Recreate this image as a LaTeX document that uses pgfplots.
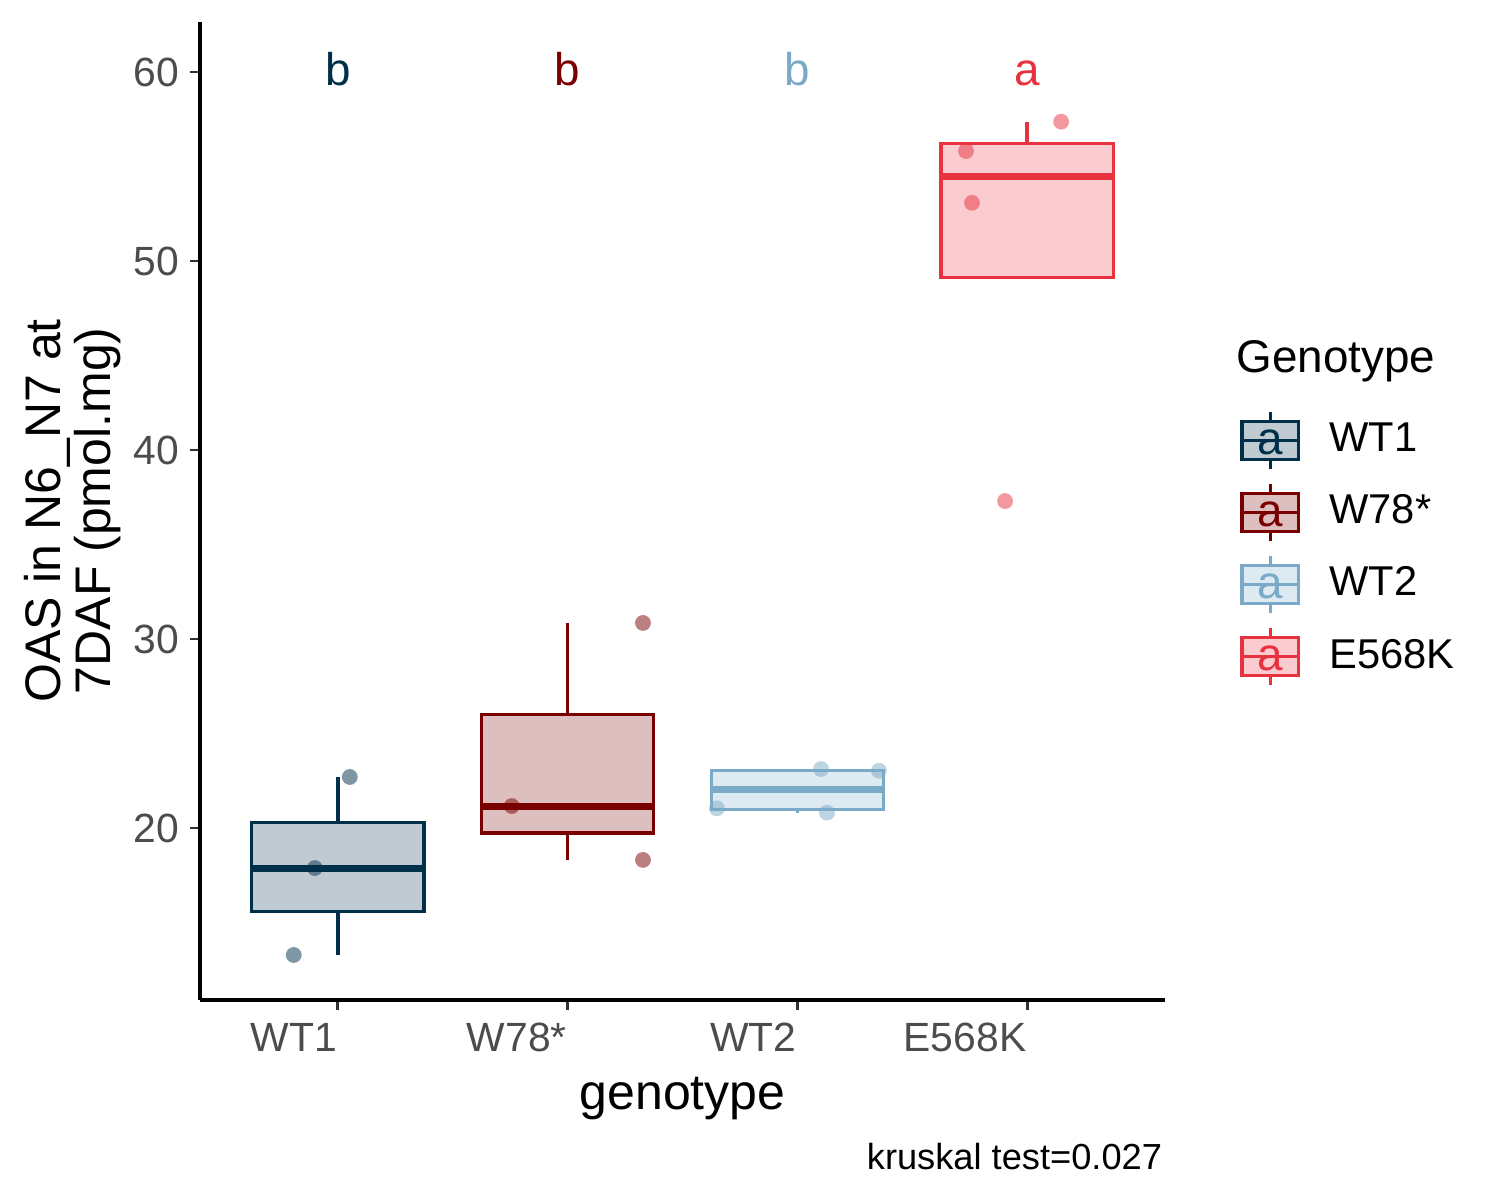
\documentclass[border=0pt]{standalone}
\usepackage{fontspec}
\setmainfont{Liberation Sans}
\usepackage{pgfplots}
\pgfplotsset{compat=1.18}
\usepgfplotslibrary{statistics}
\definecolor{cA}{HTML}{003049}
\definecolor{cB}{HTML}{780000}
\definecolor{cC}{HTML}{7BAAC8}
\definecolor{cD}{HTML}{E9323F}
\pgfplotsset{
  gkey/.style={legend image code/.code={
    \draw[#1, fill=#1!25, line width=0.8pt] (0pt,-4.55pt) rectangle (13.6pt,4.55pt);
    \draw[#1, line width=0.8pt] (6.8pt,4.55pt) -- (6.8pt,6.85pt) (6.8pt,-4.55pt) -- (6.8pt,-6.85pt) (0pt,0pt) -- (13.6pt,0pt);
    \node[anchor=center, text=#1, font=\fontsize{11}{12}\selectfont, inner sep=0pt] at (6.8pt,-1.2pt) {a};
  }},
  bx/.style={forget plot, draw=#1, fill=#1!25, line width=0.8pt, solid, mark=none,
    boxplot/draw direction=y,
    boxplot/every median/.style={line width=1.7pt}},
  pts/.style={forget plot, only marks, mark=*, mark size=1.9pt, color=#1, opacity=0.5, mark options={draw opacity=0}},
}
\begin{document}
\begin{tikzpicture}
\path[use as bounding box] (0,0) rectangle (360pt,288pt);
\begin{axis}[
  at={(48pt,48pt)}, anchor=south west,
  width=231.6pt, height=234.72pt, scale only axis,
  xmin=0.4, xmax=4.6, ymin=10.9, ymax=62.65,
  axis x line*=bottom, axis y line*=left,
  axis line style={line width=0.75pt, black, -},
  xtick={1,2,3,4}, xticklabels={WT1,W78*,WT2,E568K},
  ytick={20,30,40,50,60},
  tick align=outside, major tick length=2.4pt,
  tick style={line width=0.7pt, color=black!80},
  ticklabel style={font=\fontsize{9.8}{11}\selectfont, text=black!70},
  /pgf/number format/assume math mode=true,
  x tick label style={anchor=north east, inner sep=0pt, yshift=-3pt},
  y tick label style={anchor=east, inner sep=0pt, xshift=-2.4pt},
  clip=false,
  legend style={at={(axis description cs:1.078,0.6031)}, anchor=north west,
    draw=none, fill=none, inner sep=0pt, outer sep=0pt,
    row sep=2.8pt, column sep=7pt,
    font=\fontsize{10}{12}\selectfont, nodes={inner sep=0pt}},
  legend cell align=left,
]
% boxplots
\addplot[bx=cA, boxplot prepared={draw position=1, lower whisker=13.28, lower quartile=15.58, median=17.88, upper quartile=20.29, upper whisker=22.70, box extend=0.75, whisker extend=0, draw direction=y}] coordinates {};
\addplot[bx=cB, boxplot prepared={draw position=2, lower whisker=18.31, lower quartile=19.735, median=21.16, upper quartile=26.0, upper whisker=30.85, box extend=0.75, whisker extend=0, draw direction=y}] coordinates {};
\addplot[bx=cC, boxplot prepared={draw position=3, lower whisker=20.81, lower quartile=20.98, median=22.035, upper quartile=23.05, upper whisker=23.12, box extend=0.75, whisker extend=0, draw direction=y}] coordinates {};
\addplot[bx=cD, boxplot prepared={draw position=4, lower whisker=49.14, lower quartile=49.14, median=54.45, upper quartile=56.21, upper whisker=57.37, box extend=0.75, whisker extend=0, draw direction=y}] coordinates {};
% jittered points
\addplot[pts=cA] coordinates {(0.808,13.28) (0.90,17.88) (1.052,22.70)};
\addplot[pts=cB] coordinates {(1.757,21.16) (2.328,30.85) (2.328,18.31)};
\addplot[pts=cC] coordinates {(2.65,21.04) (3.103,23.12) (3.129,20.81) (3.355,23.03)};
\addplot[pts=cD] coordinates {(3.734,55.82) (3.76,53.08) (4.148,57.37) (3.904,37.3)};
% letters
\node[anchor=base, text=cA, font=\fontsize{11}{13}\selectfont] at (axis cs:1,59.29) {b};
\node[anchor=base, text=cB, font=\fontsize{11}{13}\selectfont] at (axis cs:2,59.29) {b};
\node[anchor=base, text=cC, font=\fontsize{11}{13}\selectfont] at (axis cs:3,59.29) {b};
\node[anchor=base, text=cD, font=\fontsize{11}{13}\selectfont] at (axis cs:4,59.29) {a};
% legend
\addlegendimage{gkey=cA}\addlegendentry{WT1}
\addlegendimage{gkey=cB}\addlegendentry{W78*}
\addlegendimage{gkey=cC}\addlegendentry{WT2}
\addlegendimage{gkey=cD}\addlegendentry{E568K}
\end{axis}
\node[anchor=base west, font=\fontsize{11}{13}\selectfont, inner sep=0pt] at (296.6pt,198.5pt) {Genotype};
\node[rotate=90, align=center, font=\fontsize{12}{12}\selectfont, inner sep=0pt] at (17.4pt,165.4pt) {OAS in N6\_N7 at\\7DAF (pmol.mg)};
\node[anchor=base, font=\fontsize{12}{14}\selectfont, inner sep=0pt] at (163.8pt,21.6pt) {genotype};
\node[anchor=base east, font=\fontsize{8.7}{10}\selectfont, inner sep=0pt] at (279.1pt,7.2pt) {kruskal test=0.027};
\end{tikzpicture}
\end{document}
